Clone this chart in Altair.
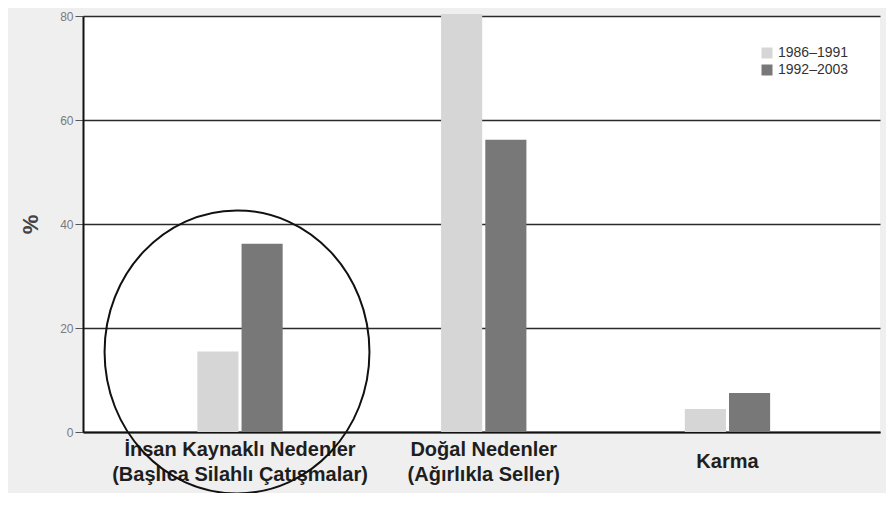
import altair as alt
import pandas as pd

categories = [
    "İnsan Kaynaklı Nedenler|(Başlıca Silahlı Çatışmalar)",
    "Doğal Nedenler|(Ağırlıkla Seller)",
    "Karma",
]
periods = ["1986–1991", "1992–2003"]
values_1986_1991 = [15.5, 80.4, 4.4]
values_1992_2003 = [36.2, 56.2, 7.5]
y_ticks = [0, 20, 40, 60, 80]
colors = ["#d6d6d6", "#787878"]

# annotation ellipse around the first group
circle_category = [categories[0]]
circle_center = [15.4]

rows = []
for c, a, b in zip(categories, values_1986_1991, values_1992_2003):
    rows.append({"cat": c, "period": periods[0], "val": a})
    rows.append({"cat": c, "period": periods[1], "val": b})
df = pd.DataFrame(rows)
circ = pd.DataFrame({"cat": circle_category, "val": circle_center})

x_scale = alt.Scale(domain=categories, paddingInner=0.65, paddingOuter=0.46, align=0.51)
y_scale = alt.Scale(domain=[0, 80], nice=False)

single_line_test = "indexof(datum.value, '|') < 0"

bars = alt.Chart(df).mark_bar().encode(
    x=alt.X("cat:N", scale=x_scale, sort=categories,
            axis=alt.Axis(title=None, labelAngle=0, labelExpr="split(datum.label, '|')",
                          labelFont="Liberation Sans, Arial",
                          labelFontSize=20, labelFontWeight="bold", labelColor="#1e1e1e",
                          labelLineHeight=25, labelBaseline="top",
                          labelPadding={"condition": {"test": single_line_test, "value": 19},
                                        "value": 7},
                          labelLimit=0, ticks=False,
                          domainColor="#111", domainWidth=2)),
    xOffset=alt.XOffset("period:N", sort=periods,
                        scale=alt.Scale(paddingInner=0.07, paddingOuter=0)),
    y=alt.Y("val:Q", scale=y_scale,
            axis=alt.Axis(title="%", values=y_ticks, grid=True, gridColor="#2a2a2a",
                          gridWidth=1.5, domainColor="#111", domainWidth=2,
                          tickColor="#555", tickSize=8, labelColor="#7a7a7a",
                          labelFontSize=12, labelFont="Liberation Sans", labelPadding=2,
                          titleFont="Liberation Sans", titleFontSize=22,
                          titleFontWeight="bold", titleColor="#444", titleAngle=270,
                          titleX=-53, titleY=208, titleAlign="center",
                          titleBaseline="middle")),
    color=alt.Color("period:N", sort=periods,
                    scale=alt.Scale(domain=periods, range=colors),
                    legend=alt.Legend(title=None, orient="none", legendX=677,
                                      legendY=30, symbolType="square", symbolSize=121,
                                      symbolStrokeWidth=0, labelFontSize=14,
                                      labelFont="Liberation Sans", labelColor="#333",
                                      rowPadding=3, labelOffset=4, padding=0)),
)

ellipse = alt.Chart(circ).mark_point(
    shape="M -0.936 0 A 0.936 1 0 1 0 0.936 0 A 0.936 1 0 1 0 -0.936 0 Z",
    filled=False, stroke="#111", strokeWidth=2, opacity=1, xOffset=-3,
).encode(
    x=alt.X("cat:N", scale=x_scale, sort=categories),
    y=alt.Y("val:Q", scale=y_scale),
    size=alt.value(283 * 283),
)

chart = alt.layer(bars, ellipse).properties(
    width=797, height=416,
    autosize=alt.AutoSizeParams(type="none"),
    padding={"left": 75, "top": 8, "right": 6, "bottom": 61},
    background="#efefef",
).configure_view(fill="white", stroke=None)

chart.save("out.html", embed_options={"renderer": "svg", "actions": False})
